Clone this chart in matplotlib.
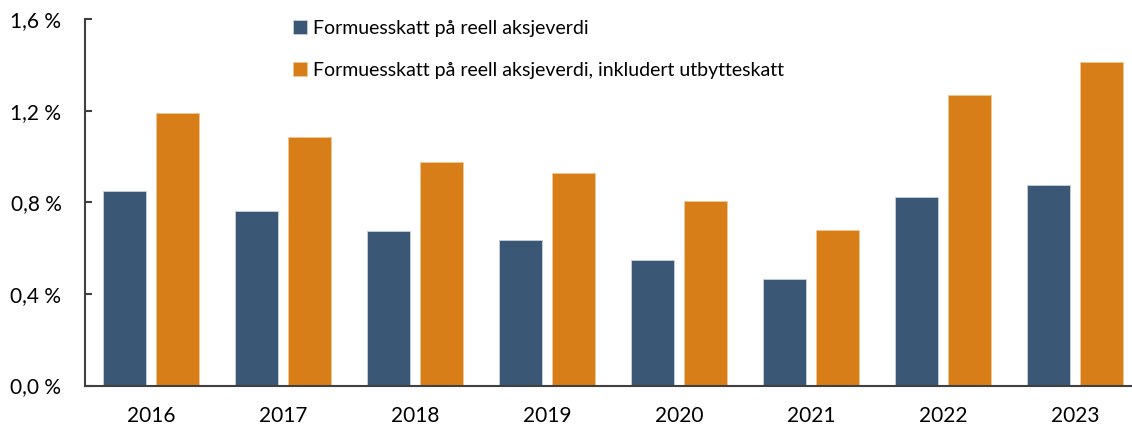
import numpy as np
import matplotlib
matplotlib.use("Agg")
import matplotlib.pyplot as plt
from matplotlib.ticker import FixedLocator, FuncFormatter

plt.rcParams['font.family'] = ['Lato', 'DejaVu Sans']

years = ['2016', '2017', '2018', '2019', '2020', '2021', '2022', '2023']
formuesskatt = [0.850, 0.763, 0.676, 0.636, 0.549, 0.466, 0.824, 0.876]
inkl_utbytte = [1.190, 1.085, 0.976, 0.928, 0.806, 0.680, 1.268, 1.412]
labels = ['Formuesskatt på reell aksjeverdi',
          'Formuesskatt på reell aksjeverdi, inkludert utbytteskatt']
colors = ['#3A5775', '#D87E18']

W, H = 1132, 428
fig = plt.figure(figsize=(W / 100, H / 100), dpi=100)
ax = fig.add_axes([85 / W, (H - 385.5) / H, (W - 85) / W, (385.5 - 19) / H])

x = np.arange(len(years))
w = 0.326
b1 = ax.bar(x - 0.2, formuesskatt, w, color=colors[0], edgecolor='#c8d0da', linewidth=0.6, label=labels[0])
b2 = ax.bar(x + 0.2, inkl_utbytte, w, color=colors[1], edgecolor='#f0c890', linewidth=0.6, label=labels[1])

ax.set_xlim(-0.5, 7.5 - 9 / 132)
ax.set_ylim(0, 1.6)
ax.yaxis.set_major_locator(FixedLocator([0, 0.4, 0.8, 1.2, 1.6]))
ax.yaxis.set_major_formatter(FuncFormatter(lambda v, p: f"{v:.1f} %".replace('.', ',')))
ax.set_xticks(x)
ax.set_xticklabels(years)

for s in ['top', 'right']:
    ax.spines[s].set_visible(False)
for s in ['left', 'bottom']:
    ax.spines[s].set_color('#404040')
    ax.spines[s].set_linewidth(1.5)

ax.tick_params(axis='y', direction='in', length=5, width=1.5, color='#404040', pad=17, labelsize=15)
ax.tick_params(axis='x', length=0, pad=15, labelsize=15)

fig.legend(handles=[b1, b2], loc='upper left', bbox_to_anchor=(285 / W, 1 - 12 / H),
           frameon=False, fontsize=14, handlelength=0.75, handleheight=0.75,
           handletextpad=0.3, labelspacing=1.3, borderaxespad=0)

fig.savefig('out.png', dpi=100)
